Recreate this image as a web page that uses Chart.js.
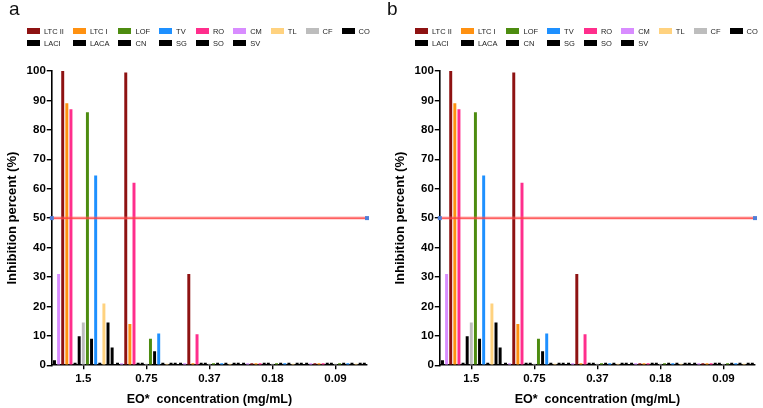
<!DOCTYPE html>
<html>
<head>
<meta charset="utf-8">
<script src="https://cdn.jsdelivr.net/npm/chart.js@4.4.1/dist/chart.umd.min.js"></script>
<style>
  html, body { margin: 0; padding: 0; background: #fff; overflow: hidden; }
  body { width: 763px; height: 408px; position: relative; font-family: Arial, "Liberation Sans", sans-serif; }
  .panel { position: absolute; top: 0; width: 375px; height: 408px; }
  .panel canvas { position: absolute; left: 0; top: 0; }
  .tag { position: absolute; left: 9px; top: -2px; font-size: 19px; color: #111; }
  .legend { position: absolute; left: 27px; top: 27px; display: grid; grid-template-columns: repeat(9, auto);
            column-gap: 9px; row-gap: 4px; font-size: 7.5px; color: #222; justify-content: start; }
  .legend .item { display: flex; align-items: center; height: 8px; white-space: nowrap; }
  .legend .swatch { width: 13px; height: 6px; margin-right: 4px; }
</style>
</head>
<body>
<div class="panel" id="pa" style="left:0">
  <div style="position:absolute;left:0;top:0;width:375px;height:408px"><canvas id="ca"></canvas></div>
  <div class="legend" id="la"></div>
  <div class="tag">a</div>
</div>
<div class="panel" id="pb" style="left:388px">
  <div style="position:absolute;left:0;top:0;width:375px;height:408px"><canvas id="cb"></canvas></div>
  <div class="legend" id="lb"></div>
  <div class="tag" style="left:-1px">b</div>
</div>
<script>
// Concentraciones del aceite esencial (eje X)
const concentrations = ['1.5', '0.75', '0.37', '0.18', '0.09']

// Inhibición (%) por serie, una entrada por concentración
const ltcII = [100, 99.5, 31, 0.7, 0.7]
const ltcI  = [89, 14, 0.7, 0.7, 0.7]
const lof   = [86, 9, 0.7, 0.7, 0.7]
const tv    = [64.5, 10.8, 0.7, 0.7, 0.7]
const ro    = [87, 62, 10.5, 0.7, 0.7]
const cm    = [31, 0.7, 0.7, 0.7, 0.7]
const tl    = [21, 0.5, 0.5, 0.5, 0.5]
const cf    = [14.5, 0.5, 0.5, 0.5, 0.5]
const co    = [1.7, 0.8, 0.8, 0.8, 0.8]
const laci  = [0.8, 0.8, 0.8, 0.8, 0.8]
const laca  = [9.8, 0.8, 0.8, 0.8, 0.8]
const cn    = [9, 4.7, 0.8, 0.8, 0.8]
const sg    = [0.8, 0.8, 0.8, 0.8, 0.8]
const so    = [14.5, 0.8, 0.8, 0.8, 0.8]
const sv    = [6, 0.8, 0.8, 0.8, 0.8]

// Orden de la leyenda (como en la figura)
const legendNames  = ['LTC II', 'LTC I', 'LOF', 'TV', 'RO', 'CM', 'TL', 'CF', 'CO', 'LACI', 'LACA', 'CN', 'SG', 'SO', 'SV']
const legendColors = ['#8e1212', '#ff9111', '#4d8c10', '#1e90ff', '#ff2e8c', '#d88cff', '#ffd27f', '#bdbdbd', '#000', '#000', '#000', '#000', '#000', '#000', '#000']
const legendValues = [ltcII, ltcI, lof, tv, ro, cm, tl, cf, co, laci, laca, cn, sg, so, sv]

// Orden de las barras dentro de cada grupo
const barOrder = ['CO', 'CM', 'LTC II', 'LTC I', 'RO', 'LACI', 'LACA', 'CF', 'LOF', 'CN', 'TV', 'SG', 'TL', 'SO', 'SV']

// Línea de referencia al 50 %
const threshold = 50

// Dibuja la línea del 50 % de lado a lado del área, con marcadores en los extremos
const cutoffLine = {
  id: 'cutoffLine',
  afterDatasetsDraw(chart) {
    const { ctx, chartArea: a, scales: { y } } = chart
    const py = y.getPixelForValue(threshold)
    ctx.save()
    ctx.strokeStyle = 'rgba(255,110,110,0.35)'
    ctx.lineWidth = 3.5
    ctx.beginPath(); ctx.moveTo(a.left, py); ctx.lineTo(a.right, py); ctx.stroke()
    ctx.strokeStyle = '#ff3d3d'
    ctx.lineWidth = 1.3
    ctx.beginPath(); ctx.moveTo(a.left, py); ctx.lineTo(a.right, py); ctx.stroke()
    ctx.fillStyle = '#4f7fd8'
    ctx.fillRect(a.left - 2, py - 2, 4, 4)
    ctx.fillRect(a.right - 2, py - 2, 4, 4)
    ctx.restore()
  }
}

function buildLegend(el) {
  legendNames.forEach((name, i) => {
    const item = document.createElement('div')
    item.className = 'item'
    item.innerHTML = `<span class="swatch" style="background:${legendColors[i]}"></span>${name}`
    el.appendChild(item)
  })
}

function makeChart(canvas) {
  const datasets = barOrder.map(name => {
    const i = legendNames.indexOf(name)
    return {
      label: name,
      data: legendValues[i].slice(),
      backgroundColor: legendColors[i],
      borderWidth: 0,
      categoryPercentage: 0.98,
      barPercentage: 0.72,
    }
  })
  return new Chart(canvas, {
    type: 'bar',
    data: { labels: concentrations.slice(), datasets },
    plugins: [cutoffLine],
    options: {
      responsive: true,
      maintainAspectRatio: false,
      animation: false,
      layout: { padding: { top: 71, left: 5, right: 8, bottom: 1 } },
      plugins: { legend: { display: false }, tooltip: { enabled: false } },
      scales: {
        x: {
          offset: true,
          border: { color: '#000', width: 1.6 },
          grid: { offset: false, drawOnChartArea: false, drawTicks: true, tickLength: 4, color: '#000', lineWidth: 1.4 },
          ticks: { color: '#000', font: { family: 'Arial', size: 11.5, weight: 'bold' }, padding: 3 },
          title: { display: true, text: 'EO*  concentration (mg/mL)', color: '#000',
                   font: { family: 'Arial', size: 12.5, weight: 'bold' }, padding: { top: 3, bottom: 0 } },
        },
        y: {
          min: 0, max: 100,
          border: { color: '#000', width: 1.6 },
          grid: { drawOnChartArea: false, drawTicks: true, tickLength: 5, color: '#000', lineWidth: 1.4 },
          ticks: { stepSize: 10, color: '#000', font: { family: 'Arial', size: 11.5, weight: 'bold' }, padding: 1 },
          title: { display: true, text: 'Inhibition percent (%)', color: '#000',
                   font: { family: 'Arial', size: 13, weight: 'bold' }, padding: { top: 0, bottom: 5 } },
        },
      },
    },
  })
}

buildLegend(document.getElementById('la'))
buildLegend(document.getElementById('lb'))
makeChart(document.getElementById('ca'))
makeChart(document.getElementById('cb'))
</script>
</body>
</html>
